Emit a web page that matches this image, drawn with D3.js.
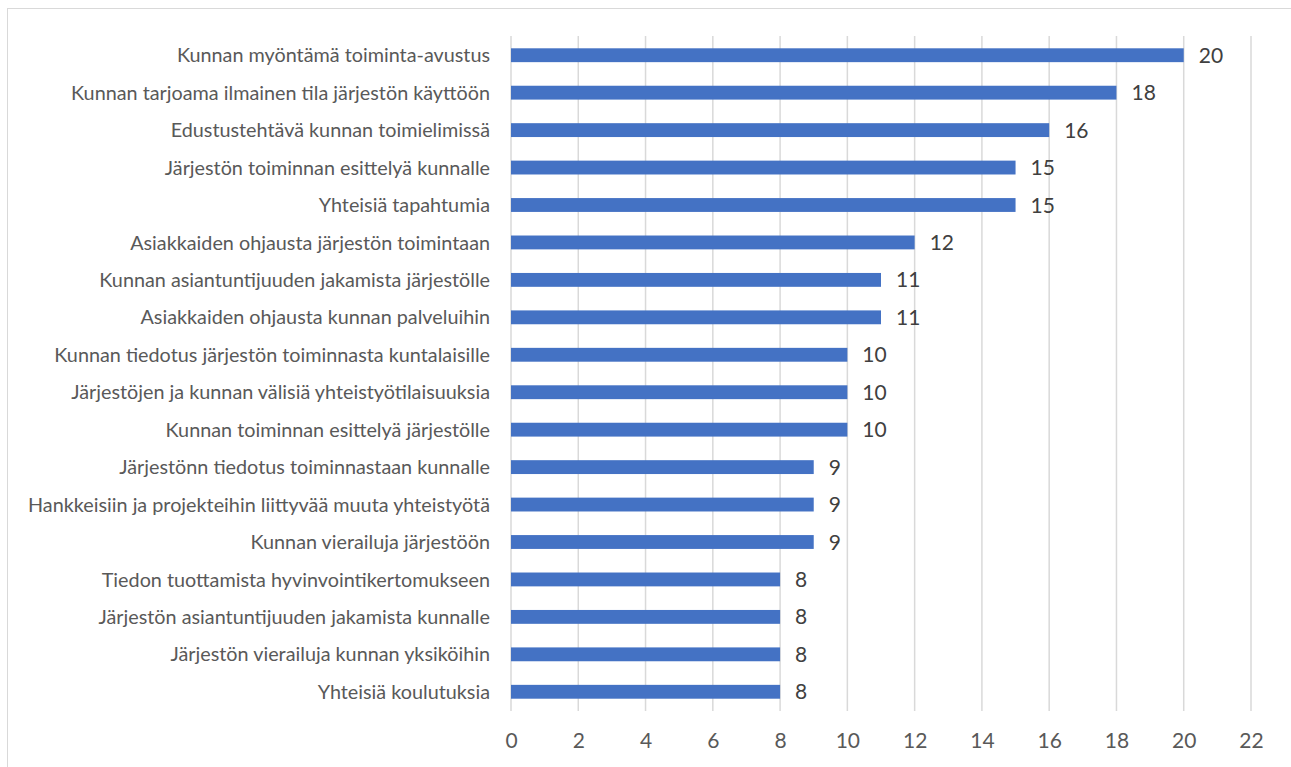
<!DOCTYPE html>
<html>
<head>
<meta charset="utf-8">
<script src="https://cdn.jsdelivr.net/npm/d3@7"></script>
<style>
  body { margin: 0; background: #fff; }
  text { font-family: Lato, "Open Sans", sans-serif; }
</style>
</head>
<body>
<div id="wrapper"></div>
<script>
const categories = [
  "Kunnan myöntämä toiminta-avustus",
  "Kunnan tarjoama ilmainen tila järjestön käyttöön",
  "Edustustehtävä kunnan toimielimissä",
  "Järjestön toiminnan esittelyä kunnalle",
  "Yhteisiä tapahtumia",
  "Asiakkaiden ohjausta järjestön toimintaan",
  "Kunnan asiantuntijuuden jakamista järjestölle",
  "Asiakkaiden ohjausta kunnan palveluihin",
  "Kunnan tiedotus järjestön toiminnasta kuntalaisille",
  "Järjestöjen ja kunnan välisiä yhteistyötilaisuuksia",
  "Kunnan toiminnan esittelyä järjestölle",
  "Järjestönn tiedotus toiminnastaan kunnalle",
  "Hankkeisiin ja projekteihin liittyvää muuta yhteistyötä",
  "Kunnan vierailuja järjestöön",
  "Tiedon tuottamista hyvinvointikertomukseen",
  "Järjestön asiantuntijuuden jakamista kunnalle",
  "Järjestön vierailuja kunnan yksiköihin",
  "Yhteisiä koulutuksia"
];
const values = [20, 18, 16, 15, 15, 12, 11, 11, 10, 10, 10, 9, 9, 9, 8, 8, 8, 8];
const xTicks = [0, 2, 4, 6, 8, 10, 12, 14, 16, 18, 20, 22];

const width = 1291, height = 767;

const svg = d3.select("#wrapper")
  .append("svg")
  .attr("width", width)
  .attr("height", height);

// frame
svg.append("rect")
  .attr("x", 7.5).attr("y", 8.5)
  .attr("width", 1300).attr("height", 800)
  .attr("fill", "none")
  .attr("stroke", "#d9d9d9");

const x = d3.scaleLinear().domain([0, 22]).range([511, 1251]);
const y = d3.scaleBand().domain(categories).range([36.5, 710.5]).paddingInner(0.63).paddingOuter(0.315);

// gridlines
svg.append("g")
  .selectAll("line")
  .data(xTicks)
  .join("line")
  .attr("x1", d => x(d)).attr("x2", d => x(d))
  .attr("y1", 36).attr("y2", 711)
  .attr("stroke", "#d9d9d9")
  .attr("stroke-width", 1.5);

// bars
svg.append("g")
  .selectAll("rect")
  .data(values)
  .join("rect")
  .attr("x", x(0))
  .attr("y", (d, i) => y(categories[i]))
  .attr("width", d => x(d) - x(0))
  .attr("height", y.bandwidth())
  .attr("fill", "#4472c4");

// value labels
svg.append("g")
  .selectAll("text")
  .data(values)
  .join("text")
  .attr("x", d => x(d) + 15)
  .attr("y", (d, i) => y(categories[i]) + y.bandwidth() / 2)
  .attr("dy", "0.36em")
  .attr("font-size", 21)
  .attr("fill", "#404040")
  .text(d => d);

// category labels
svg.append("g")
  .selectAll("text")
  .data(categories)
  .join("text")
  .attr("x", 490)
  .attr("y", d => y(d) + y.bandwidth() / 2)
  .attr("dy", "0.36em")
  .attr("text-anchor", "end")
  .attr("font-size", 19.8)
  .attr("fill", "#595959")
  .text(d => d);

// x axis labels
const xAxis = svg.append("g")
  .attr("transform", "translate(0,733)")
  .call(d3.axisBottom(x).tickValues(xTicks).tickSize(0).tickPadding(0));
xAxis.select(".domain").remove();
xAxis.selectAll("text")
  .attr("font-size", 21)
  .attr("font-family", "Lato, sans-serif")
  .attr("fill", "#595959");
</script>
</body>
</html>
